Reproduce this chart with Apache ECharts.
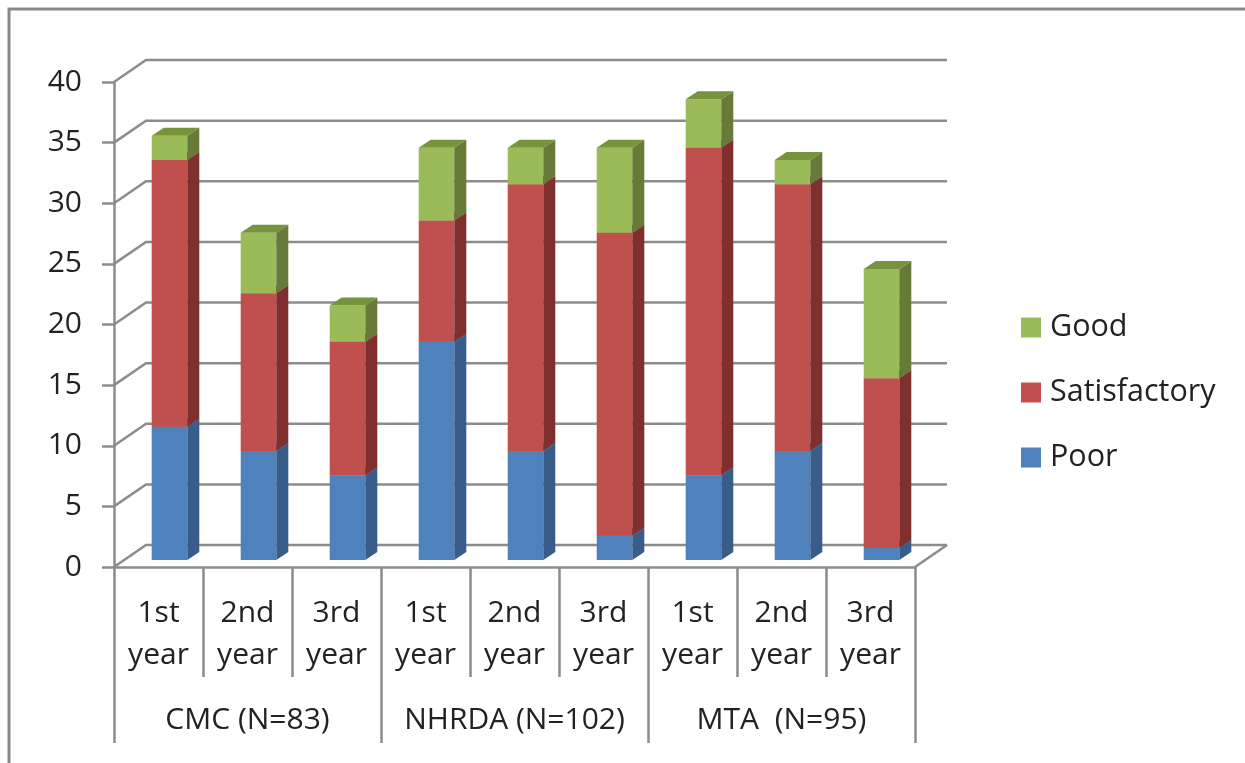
<!DOCTYPE html>
<html>
<head>
<meta charset="utf-8">
<script src="https://cdn.jsdelivr.net/npm/echarts@6/dist/echarts.min.js"></script>
<style>
  html, body { margin: 0; padding: 0; background: #fff; }
  #chart { width: 1245px; height: 763px; }
</style>
</head>
<body>
<div id="chart"></div>
<script>
// data
const years = ['1st\nyear', '2nd\nyear', '3rd\nyear', '1st\nyear', '2nd\nyear', '3rd\nyear', '1st\nyear', '2nd\nyear', '3rd\nyear'];
const groups = ['CMC (N=83)', 'NHRDA (N=102)', 'MTA  (N=95)'];
const poor = [11, 9, 7, 18, 9, 2, 7, 9, 1];
const satisfactory = [22, 13, 11, 10, 22, 25, 27, 22, 14];
const good = [2, 5, 3, 6, 3, 7, 4, 2, 9];
const yTicks = [0, 5, 10, 15, 20, 25, 30, 35, 40];

// 3d look: offsets of the bar plane, the bar depth and the back wall
const BAR_DX = 11, BAR_DY = -7;
const DEPTH_DX = 12, DEPTH_DY = -8;
const WALL_DX = 32, WALL_DY = -22;
const GRID_COLOR = '#8c8c8c';
const FONT = '"Open Sans", sans-serif';
const TEXT_COLOR = '#222';

const palette = {
    Poor: { front: '#4f81bd', side: '#385d8a', top: '#4672a8' },
    Satisfactory: { front: '#c0504d', side: '#7f302e', top: '#a0403d' },
    Good: { front: '#9bbb59', side: '#677a3a', top: '#77933c' }
};

// build stacked segments [index, low, high]
function segments(values, below) {
    return values.map((v, i) => {
        const lo = below.reduce((s, arr) => s + arr[i], 0);
        return [i, lo, lo + v];
    });
}

function barRenderer(name) {
    const c = palette[name];
    return function (params, api) {
        const i = api.value(0), lo = api.value(1), hi = api.value(2);
        if (hi - lo <= 0) return;
        const bw = api.size([1, 0])[0] * 0.40;
        const p0 = api.coord([i, lo]);
        const p1 = api.coord([i, hi]);
        const x0 = p0[0] - bw / 2 + BAR_DX, x1 = x0 + bw;
        const yb = p0[1] + BAR_DY, yt = p1[1] + BAR_DY;
        return {
            type: 'group',
            children: [
                { type: 'rect', shape: { x: x0, y: yt, width: bw, height: yb - yt }, style: { fill: c.front } },
                { type: 'polygon', shape: { points: [[x1, yb], [x1 + DEPTH_DX, yb + DEPTH_DY], [x1 + DEPTH_DX, yt + DEPTH_DY], [x1, yt]] }, style: { fill: c.side } },
                { type: 'polygon', shape: { points: [[x0, yt], [x1, yt], [x1 + DEPTH_DX, yt + DEPTH_DY], [x0 + DEPTH_DX, yt + DEPTH_DY]] }, style: { fill: c.top } }
            ]
        };
    };
}

// side wall + back wall gridlines
function wallRenderer(params, api) {
    const cs = params.coordSys;
    const y = api.coord([0, api.value(1)])[1];
    const xl = cs.x, xr = cs.x + cs.width;
    const style = { stroke: GRID_COLOR, lineWidth: 2.5, fill: null };
    const children = [
        { type: 'polyline', shape: { points: [[xl, y], [xl + WALL_DX, y + WALL_DY], [xr + WALL_DX, y + WALL_DY]] }, style: style }
    ];
    if (api.value(1) === 0) {
        children.push({ type: 'line', shape: { x1: xr, y1: y, x2: xr + WALL_DX, y2: y + WALL_DY }, style: style });
    }
    return { type: 'group', children: children };
}

const chart = echarts.init(document.getElementById('chart'));

const barSeries = [
    ['Poor', segments(poor, [])],
    ['Satisfactory', segments(satisfactory, [poor])],
    ['Good', segments(good, [poor, satisfactory])]
].map(([name, data]) => ({
    name: name,
    type: 'custom',
    clip: false,
    z: 3,
    itemStyle: { color: palette[name].front },
    renderItem: barRenderer(name),
    encode: { x: 0, y: [1, 2] },
    data: data
}));

chart.setOption({
    animation: false,
    backgroundColor: '#fff',
    graphic: [{
        type: 'rect',
        shape: { x: 9, y: 9, width: 1300, height: 800 },
        style: { fill: null, stroke: '#898989', lineWidth: 3 },
        z: 0
    }],
    grid: { left: 114, right: 330, top: 82, bottom: 196 },
    legend: {
        data: ['Good', 'Satisfactory', 'Poor'],
        orient: 'vertical',
        left: 1021,
        top: 312,
        padding: 0,
        itemWidth: 20,
        itemHeight: 20,
        itemGap: 34,
        icon: 'rect',
        textStyle: { fontFamily: FONT, fontSize: 30.5, color: TEXT_COLOR, lineHeight: 30, padding: [0, 0, 0, 4] }
    },
    xAxis: [{
        type: 'category',
        position: 'bottom',
        data: years,
        axisLine: { show: true, lineStyle: { color: GRID_COLOR, width: 2.5 } },
        axisTick: { show: true, interval: 0, inside: false, length: 110, lineStyle: { color: GRID_COLOR, width: 2.5 } },
        axisLabel: { interval: 0, margin: 25, fontFamily: FONT, fontSize: 30, lineHeight: 42, color: TEXT_COLOR },
        splitLine: { show: false }
    }, {
        type: 'category',
        position: 'bottom',
        data: groups,
        axisLine: { show: false },
        axisTick: { show: true, interval: 0, length: 176, lineStyle: { color: GRID_COLOR, width: 2.5 } },
        axisLabel: { interval: 0, margin: 132, fontFamily: FONT, fontSize: 30, lineHeight: 42, color: TEXT_COLOR },
        splitLine: { show: false }
    }],
    yAxis: {
        type: 'value',
        min: 0,
        max: 40,
        interval: 5,
        axisLine: { show: true, lineStyle: { color: GRID_COLOR, width: 2.5 } },
        axisTick: { show: true, length: 12, lineStyle: { color: GRID_COLOR, width: 2.5 } },
        axisLabel: { margin: 32, fontFamily: FONT, fontSize: 30, color: TEXT_COLOR },
        splitLine: { show: false }
    },
    series: [{
        name: 'walls',
        type: 'custom',
        clip: false,
        z: 1,
        silent: true,
        renderItem: wallRenderer,
        encode: { x: 0, y: 1 },
        data: yTicks.map(v => [0, v])
    }].concat(barSeries)
});
</script>
</body>
</html>
